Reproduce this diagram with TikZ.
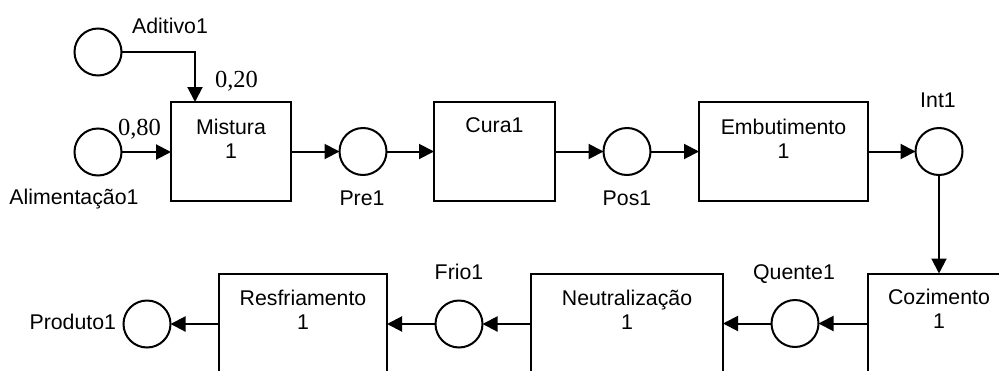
\documentclass[tikz,border=0pt]{standalone}
\usepackage{fontspec}
\setmainfont{Liberation Sans}
\newfontfamily\ratiofont{Liberation Serif}
\usetikzlibrary{arrows.meta}
\begin{document}
\begin{tikzpicture}[x=1pt,y=-1pt,
  every node/.style={inner sep=0pt, outer sep=0pt},
  txt/.style={font=\fontsize{21.3}{24}\selectfont, align=center},
  ratio/.style={font=\fontsize{24.5}{28}\ratiofont},
  place/.style={circle, draw, line width=2pt, minimum size=47pt},
  unit/.style={rectangle, draw, line width=2pt},
  flow/.style={line width=2pt, -{Triangle[length=15pt,width=15pt]}}
]
\useasboundingbox (0,0) rectangle (999,370);
\clip (0,0) rectangle (999,370);

% process units, upper row
\node[unit, minimum width=120pt, minimum height=99pt] (mix)  at (231,151.5) {};
\node[unit, minimum width=121pt, minimum height=99pt] (cura) at (494.5,151.5) {};
\node[unit, minimum width=169pt, minimum height=99pt] (emb)  at (783.5,151.5) {};
% process units, lower row (run past the page edge)
\node[unit, minimum width=142pt, minimum height=100pt] (coz) at (939,323.5) {};
\node[unit, minimum width=192pt, minimum height=100pt] (neu) at (627,324) {};
\node[unit, minimum width=168pt, minimum height=100pt] (res) at (303,324) {};

% unit names
\node[txt, anchor=north] (mixT)  at ([yshift=-17pt]mix.north)  {Mistura\\1};
\node[txt, anchor=north] (curaT) at ([yshift=-16pt]cura.north) {Cura1};
\node[txt, anchor=north] (embT)  at ([yshift=-17pt]emb.north)  {Embutimento\\1};
\node[txt, anchor=north] (cozT)  at ([yshift=-16pt]coz.north)  {Cozimento\\1};
\node[txt, anchor=north] (neuT)  at ([yshift=-16pt]neu.north)  {Neutralização\\1};
\node[txt, anchor=north] (resT)  at ([yshift=-16pt]res.north)  {Resfriamento\\1};

% material states
\node[place] (adit) at (98,52) {};
\node[place] (alim) at (98,152) {};
\node[place] (pre)  at (363,151.5) {};
\node[place] (pos)  at (627,151.5) {};
\node[place] (int)  at (939,151.5) {};
\node[place] (quen) at (795,323.5) {};
\node[place] (frio) at (459,324) {};
\node[place] (prod) at (147,324) {};

% state names
\node[txt, anchor=base] (aditL) at (170,33)  {Aditivo1};
\node[txt, anchor=base] (alimL) at (74,204)  {Alimentação1};
\node[txt, anchor=base] (preL)  at (362,205) {Pre1};
\node[txt, anchor=base] (posL)  at (627,205) {Pos1};
\node[txt, anchor=base] (intL)  at (938,107) {Int1};
\node[txt, anchor=base] (quenL) at (794,279) {Quente1};
\node[txt, anchor=base] (frioL) at (459,279) {Frio1};
\node[txt, anchor=base east] (prodL) at (116,329) {Produto1};

% feed fractions
\node[ratio, anchor=base west] (fa) at (215,87)  {0,20};
\node[ratio, anchor=base west] (fb) at (118,135) {0,80};

% flows
\draw[flow] (adit.east) -| ([xshift=-36pt]mix.north);
\draw[flow] (alim.east) -- (alim.east -| mix.west);
\draw[flow] (mix.east) -- (pre.west);
\draw[flow] (pre.east) -- (cura.west);
\draw[flow] (cura.east) -- (pos.west);
\draw[flow] (pos.east) -- (emb.west);
\draw[flow] (emb.east) -- (int.west);
\draw[flow] (int.south) -- (int.south |- coz.north);
\draw[flow] (coz.west |- quen) -- (quen.east);
\draw[flow] (quen.west) -- (quen.west -| neu.east);
\draw[flow] (neu.west |- frio) -- (frio.east);
\draw[flow] (frio.west) -- (frio.west -| res.east);
\draw[flow] (res.west |- prod) -- (prod.east);
\end{tikzpicture}
\end{document}
